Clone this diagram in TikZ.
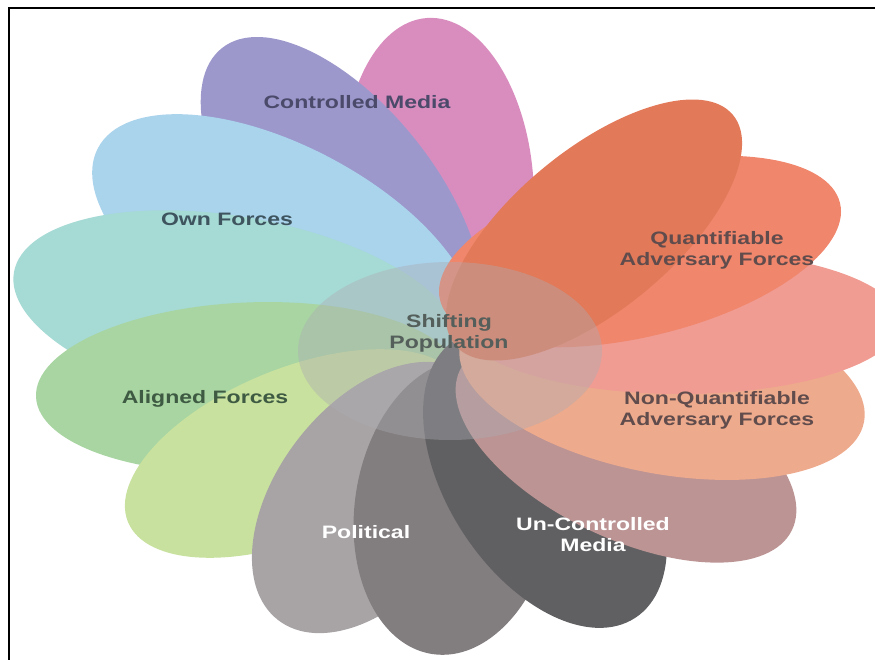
\documentclass[tikz,border=0pt]{standalone}
\usepackage{fontspec}
\setmainfont{Liberation Sans}
\usetikzlibrary{positioning}

\definecolor{petalPink}{RGB}{217,141,191}
\definecolor{petalPurple}{RGB}{156,152,204}
\definecolor{petalBlue}{RGB}{170,211,236}
\definecolor{petalTeal}{RGB}{166,218,212}
\definecolor{petalGreen}{RGB}{168,213,162}
\definecolor{petalLime}{RGB}{200,225,158}
\definecolor{petalGreyA}{RGB}{168,164,165}
\definecolor{petalGreyB}{RGB}{130,125,126}
\definecolor{petalGreyC}{RGB}{96,96,98}
\definecolor{petalMauve}{RGB}{188,148,148}
\definecolor{petalPeach}{RGB}{238,170,140}
\definecolor{petalSalmon}{RGB}{240,156,147}
\definecolor{petalCoral}{RGB}{240,134,108}
\definecolor{petalRust}{RGB}{226,121,88}
\definecolor{hubGrey}{RGB}{172,172,178}
\definecolor{txtPurple}{RGB}{76,74,106}
\definecolor{txtSlate}{RGB}{62,84,94}
\definecolor{txtGreen}{RGB}{62,90,66}
\definecolor{txtBrown}{RGB}{96,76,76}
\definecolor{txtHub}{RGB}{84,94,90}

\begin{document}
\begin{tikzpicture}[
    x=1pt, y=1pt,
    every node/.style={
      font=\fontsize{18}{21}\selectfont\bfseries,
      align=center,
      xscale=1.28
    }
    ]
    \useasboundingbox (0,0) rectangle (875,-660);

    % petals: tip x/y, inner x/y, half width, colour (pixel coordinates)
    \foreach \tx/\ty/\ix/\iy/\bw/\col [
        evaluate=\tx as \rad using {veclen(\tx-\ix,\ty-\iy)/2},
        evaluate=\tx as \ang using {atan2(\iy-\ty,\tx-\ix)}
      ] in {
      427/18/450/352/95/petalPink,
      222/48/462/352/95/petalPurple,
      98/148/470/345/100/petalBlue,
      14/272/460/352/95/petalTeal,
      36/397/460/378/85/petalGreen,
      128/522/462/385/85/petalLime,
      278/620/468/375/95/petalGreyA,
      432/654/478/360/100/petalGreyB,
      635/618/455/340/98/petalGreyC,
      792/530/460/370/88/petalMauve,
      864/422/460/345/90/petalPeach,
      900/322/460/322/72/petalSalmon,
      840/203/440/300/85/petalCoral,
      733/115/455/345/80/petalRust}{
      \fill[\col] ({(\tx+\ix)/2},{-(\ty+\iy)/2})
        ellipse[x radius=\rad, y radius=\bw, rotate=\ang];
    }

    % hub
    \fill[hubGrey, fill opacity=0.4] (450,-351) ellipse[x radius=152, y radius=89];

    \node[text=txtPurple] (cmedia) at (357,-102) {Controlled Media};
    \node[text=txtSlate] (own) at (227,-219) {Own Forces};
    \node[text=txtGreen] (aligned) at (205,-399) {Aligned Forces};
    \node[text=white] (political) at (366,-532) {Political};
    \node[text=white] (umedia) at (593,-535) {Un-Controlled\\Media};
    \node[text=txtBrown] (nqaf) at (717,-410) {Non-Quantifiable\\Adversary Forces};
    \node[text=txtBrown] (qaf) at (717,-250) {Quantifiable\\Adversary Forces};
    \node[text=txtHub] (shift) at (449,-333) {Shifting\\Population};

    % frame
    \draw[line width=2pt] (9,-660) -- (9,-8) -- (875,-8);
  \end{tikzpicture}
\end{document}
